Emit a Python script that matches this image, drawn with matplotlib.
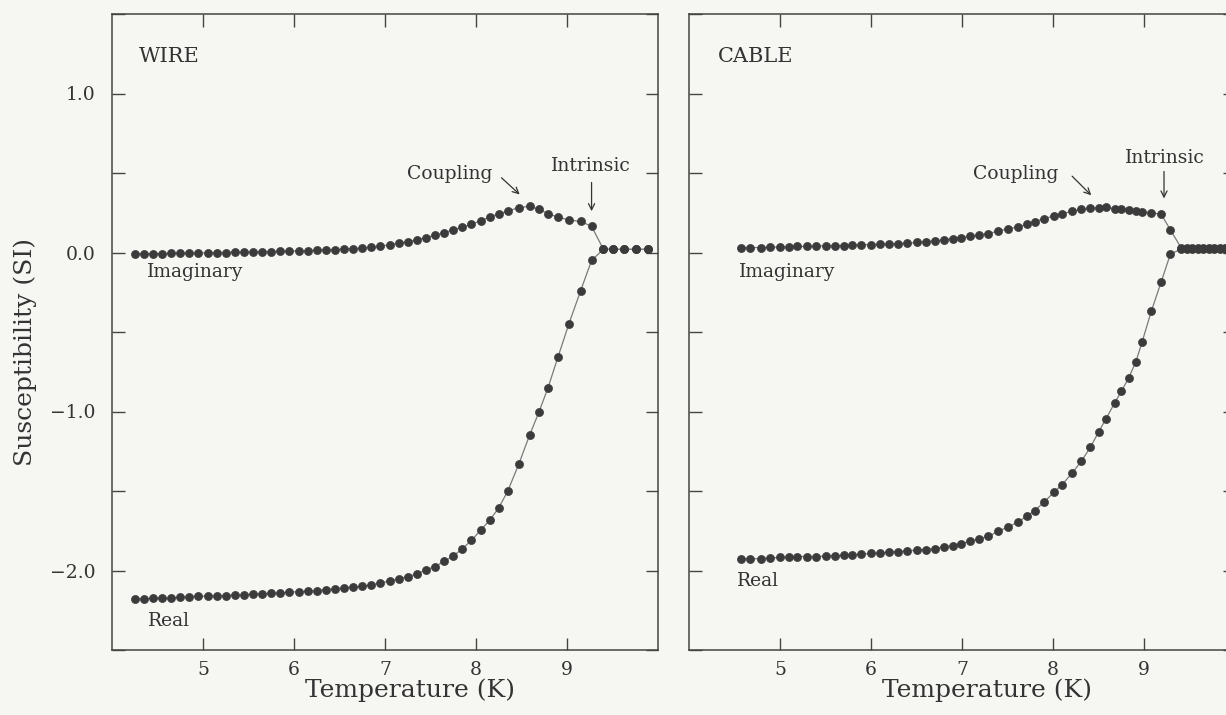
import matplotlib
matplotlib.use("Agg")
import matplotlib.pyplot as plt
from matplotlib.ticker import MultipleLocator, FuncFormatter

plt.rcParams['font.family'] = ['DejaVu Serif']

# ---- WIRE sample: AC susceptibility vs temperature ----
wire_temp = [4.25, 4.35, 4.45, 4.55, 4.65, 4.75, 4.85, 4.95, 5.05, 5.15,
             5.25, 5.35, 5.45, 5.55, 5.65, 5.75, 5.85, 5.95, 6.05, 6.15,
             6.25, 6.35, 6.45, 6.55, 6.65, 6.75, 6.85, 6.95, 7.05, 7.15,
             7.25, 7.35, 7.45, 7.55, 7.65, 7.75, 7.85, 7.95, 8.05, 8.15,
             8.25, 8.35, 8.47, 8.59, 8.69, 8.79, 8.90, 9.02, 9.15, 9.27,
             9.40, 9.51, 9.63, 9.76, 9.89]
wire_real = [-2.179, -2.179, -2.175, -2.175, -2.173, -2.168, -2.164, -2.162, -2.162, -2.158,
             -2.158, -2.154, -2.154, -2.147, -2.147, -2.143, -2.141, -2.137, -2.133, -2.131,
             -2.126, -2.120, -2.116, -2.109, -2.105, -2.099, -2.091, -2.078, -2.067, -2.053,
             -2.038, -2.021, -1.996, -1.975, -1.943, -1.909, -1.863, -1.811, -1.747, -1.684,
             -1.606, -1.499, -1.331, -1.147, -1.006, -0.853, -0.659, -0.450, -0.240, -0.050,
             0.020, 0.020, 0.020, 0.020, 0.020]
wire_imag = [-0.010, -0.009, -0.008, -0.007, -0.006, -0.005, -0.004, -0.003, -0.002, -0.001,
             0.000, 0.001, 0.002, 0.003, 0.004, 0.006, 0.007, 0.009, 0.010, 0.012,
             0.014, 0.016, 0.018, 0.021, 0.024, 0.028, 0.033, 0.040, 0.048, 0.058,
             0.067, 0.080, 0.094, 0.108, 0.125, 0.142, 0.160, 0.177, 0.200, 0.222,
             0.244, 0.260, 0.283, 0.290, 0.272, 0.245, 0.222, 0.205, 0.195, 0.165,
             0.020, 0.020, 0.020, 0.020, 0.020]

# ---- CABLE sample ----
cable_temp = [4.57, 4.67, 4.79, 4.89, 5.00, 5.10, 5.19, 5.30, 5.40, 5.50,
              5.60, 5.70, 5.79, 5.89, 6.00, 6.10, 6.20, 6.30, 6.40, 6.50,
              6.60, 6.70, 6.80, 6.90, 6.99, 7.09, 7.19, 7.29, 7.40, 7.50,
              7.61, 7.71, 7.80, 7.90, 8.01, 8.10, 8.21, 8.31, 8.41, 8.50,
              8.58, 8.68, 8.75, 8.83, 8.91, 8.98, 9.08, 9.19, 9.29, 9.41,
              9.47, 9.53, 9.59, 9.65, 9.71, 9.77, 9.83, 9.89, 9.95]
cable_real = [-1.925, -1.927, -1.925, -1.921, -1.918, -1.916, -1.912, -1.912, -1.912, -1.910,
              -1.908, -1.904, -1.902, -1.897, -1.893, -1.889, -1.885, -1.881, -1.877, -1.872,
              -1.868, -1.862, -1.851, -1.843, -1.831, -1.816, -1.799, -1.785, -1.753, -1.728,
              -1.697, -1.659, -1.623, -1.571, -1.508, -1.460, -1.387, -1.314, -1.226, -1.130,
              -1.048, -0.944, -0.874, -0.791, -0.688, -0.561, -0.370, -0.183, -0.010, 0.022,
              0.022, 0.022, 0.022, 0.022, 0.022, 0.022, 0.022, 0.022, 0.022]
cable_imag = [0.031, 0.031, 0.031, 0.033, 0.035, 0.035, 0.038, 0.038, 0.040, 0.042,
              0.042, 0.044, 0.046, 0.048, 0.050, 0.052, 0.054, 0.056, 0.058, 0.063,
              0.069, 0.073, 0.079, 0.088, 0.094, 0.102, 0.110, 0.119, 0.135, 0.148,
              0.160, 0.177, 0.194, 0.213, 0.229, 0.244, 0.260, 0.271, 0.277, 0.281,
              0.285, 0.275, 0.271, 0.265, 0.260, 0.256, 0.250, 0.240, 0.142, 0.028,
              0.028, 0.028, 0.028, 0.028, 0.028, 0.028, 0.028, 0.028, 0.028]

x_ticks = [5, 6, 7, 8, 9]
x_range = (4.0, 10.0)
y_range = (-2.5, 1.5)

BG = '#f6f7f3'
INK = '#333333'
DOT = '#3b3b3b'

fig = plt.figure(figsize=(12.26, 7.15), dpi=100, facecolor=BG)

W, H = 1226.0, 715.0
ax_w = 546 / W
ax_b = 1 - 650 / H
ax_h = (650 - 14) / H
ax_wire = fig.add_axes([112 / W, ax_b, ax_w, ax_h])
ax_cable = fig.add_axes([689 / W, ax_b, ax_w, ax_h])

y_fmt = FuncFormatter(lambda v, pos: f'{v:.1f}'.replace('-', '\u2212'))


def style_axes(ax, show_ylabels):
    ax.set_facecolor(BG)
    ax.set_xlim(*x_range)
    ax.set_ylim(*y_range)
    ax.set_xticks(x_ticks)
    ax.yaxis.set_major_locator(MultipleLocator(1.0))
    ax.yaxis.set_minor_locator(MultipleLocator(0.5))
    ax.yaxis.set_major_formatter(y_fmt)
    ax.tick_params(which='both', direction='in', top=True, right=True,
                   length=9, width=1.0, color='#444444', labelcolor=INK,
                   labelsize=13.5)
    ax.tick_params(axis='x', pad=8)
    ax.tick_params(axis='y', pad=12)
    if not show_ylabels:
        ax.tick_params(axis='y', labelleft=False)
    for s in ax.spines.values():
        s.set_color('#444444')
        s.set_linewidth(1.1)
    ax.set_xlabel('Temperature (K)', fontsize=18, color=INK)
    ax.xaxis.set_label_coords(0.546, -0.045)


def draw_series(ax, temp, values):
    ax.plot(temp, values, '-', color='#7a7a7a', lw=0.9, zorder=2)
    ax.plot(temp, values, 'o', ms=5.8, color=DOT, mec=DOT, mew=0.5, zorder=3)


arrow_kw = dict(arrowstyle='->', color=INK, lw=0.9, shrinkA=0, shrinkB=0,
                mutation_scale=11)
ann_size = 13.5

# WIRE panel
style_axes(ax_wire, True)
draw_series(ax_wire, wire_temp, wire_imag)
draw_series(ax_wire, wire_temp, wire_real)
ax_wire.text(4.29, 1.20, 'WIRE', fontsize=15, color=INK, va='baseline')
ax_wire.text(4.385, -0.157, 'Imaginary', fontsize=ann_size, color=INK, va='baseline')
ax_wire.text(4.40, -2.35, 'Real', fontsize=ann_size, color=INK, va='baseline')
ax_wire.text(8.185, 0.465, 'Coupling', fontsize=ann_size, color=INK,
             ha='right', va='baseline')
ax_wire.annotate('', xy=(8.48, 0.365), xytext=(8.28, 0.47), arrowprops=arrow_kw)
ax_wire.text(9.26, 0.51, 'Intrinsic', fontsize=ann_size, color=INK,
             ha='center', va='baseline')
ax_wire.annotate('', xy=(9.27, 0.26), xytext=(9.27, 0.44), arrowprops=arrow_kw)

# CABLE panel
style_axes(ax_cable, False)
draw_series(ax_cable, cable_temp, cable_imag)
draw_series(ax_cable, cable_temp, cable_real)
ax_cable.text(4.32, 1.20, 'CABLE', fontsize=15, color=INK, va='baseline')
ax_cable.text(4.55, -0.157, 'Imaginary', fontsize=ann_size, color=INK, va='baseline')
ax_cable.text(4.53, -2.10, 'Real', fontsize=ann_size, color=INK, va='baseline')
ax_cable.text(8.055, 0.465, 'Coupling', fontsize=ann_size, color=INK,
              ha='right', va='baseline')
ax_cable.annotate('', xy=(8.42, 0.36), xytext=(8.21, 0.48), arrowprops=arrow_kw)
ax_cable.text(9.23, 0.566, 'Intrinsic', fontsize=ann_size, color=INK,
              ha='center', va='baseline')
ax_cable.annotate('', xy=(9.22, 0.34), xytext=(9.22, 0.51), arrowprops=arrow_kw)

fig.text(25 / W, 1 - 352 / H, 'Susceptibility (SI)', rotation=90, fontsize=18,
         color=INK, ha='center', va='center')

fig.savefig('out.png', dpi=100, facecolor=BG)
